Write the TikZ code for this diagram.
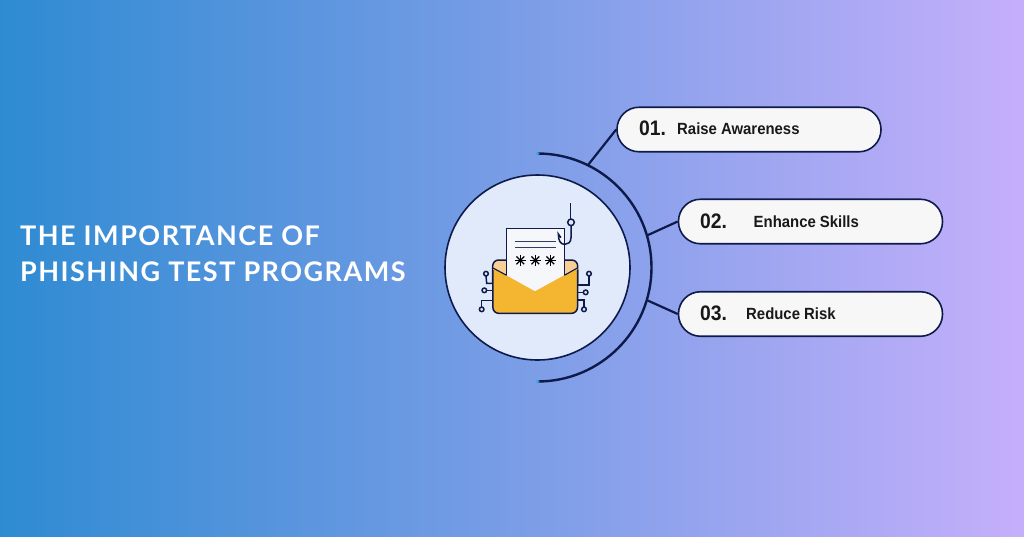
\documentclass[tikz,border=0pt]{standalone}
\usepackage{fontspec}
\usetikzlibrary{calc}
\setmainfont{Liberation Sans}
\newfontfamily\titlefont[LetterSpace=5.5]{Lato}
\newfontfamily\labelfont[FakeStretch=.92]{Liberation Sans}
\definecolor{ink}{HTML}{0E1A4A}
\definecolor{gleft}{HTML}{2E8BD2}
\definecolor{gmid}{HTML}{7BA0E6}
\definecolor{gright}{HTML}{C5AFFB}
\definecolor{disc}{HTML}{E0EAFB}
\definecolor{pill}{HTML}{F7F7F7}
\definecolor{envfill}{HTML}{F4B530}
\definecolor{flapin}{HTML}{F8CF95}
\definecolor{paper}{HTML}{F6F7FA}
\definecolor{tip}{HTML}{3BA5E8}
\tikzset{
  pillbox/.style={draw=ink,line width=1.6pt,fill=pill,rounded corners=22pt,minimum width=264pt,minimum height=44.5pt,inner sep=0pt},
  link/.style={draw=ink,line width=2.2pt},
  numtext/.style={anchor=base west,inner sep=0pt,font=\labelfont\bfseries\fontsize{21}{21}\selectfont,text=black!90},
  labeltext/.style={anchor=base west,inner sep=0pt,font=\labelfont\bfseries\fontsize{16.2}{16}\selectfont,text=black!90},
  iconline/.style={draw=ink,line width=1.5pt},
  pad/.style={draw=ink,line width=1.5pt,fill=disc},
  ray/.style={draw=black,line width=1.3pt}
}
\begin{document}
\begin{tikzpicture}[x=1pt,y=-1pt]
\useasboundingbox (0,0) rectangle (1024,536);
\shade[left color=gleft,middle color=gmid,right color=gright] (0,0) rectangle (1024,536);
% title
\node[anchor=west,align=left,inner sep=0pt,text=white,font=\titlefont\bfseries\fontsize{27}{35.5}\selectfont] (title) at (20,253.5) {THE IMPORTANCE OF\\PHISHING TEST PROGRAMS};
% disc and ring
\coordinate (c) at (537.5,267.5);
\node[circle,draw=ink,line width=1.6pt,fill=disc,minimum size=185pt,inner sep=0pt] (disc) at (c) {};
\draw[ink,line width=2.4pt] (537.5,153.5) arc[start angle=90,end angle=-90,radius=114pt];
\fill[tip] (537.5,153.5) circle[radius=1.8pt];
\fill[tip] (537.5,381.5) circle[radius=1.8pt];
\coordinate (a1) at ($(c)+(63.8:114pt)$);
\coordinate (a2) at ($(c)+(16.3:114pt)$);
\coordinate (a3) at ($(c)+(-16.6:114pt)$);
% pills
\node[pillbox] (p1) at (749,129.5) {};
\node[pillbox] (p2) at (810.5,221.5) {};
\node[pillbox] (p3) at (810.5,314) {};
\draw[link] (a1) -- (p1.west);
\draw[link] (a2) -- (p2.west);
\draw[link] (a3) -- (p3.west);
\node[numtext] (n1) at (639,135.5) {01.};
\node[labeltext] (l1) at (677,134.5) {Raise Awareness};
\node[numtext] (n2) at (700,228.5) {02.};
\node[labeltext] (l2) at (753.5,227) {Enhance Skills};
\node[numtext] (n3) at (700,320.5) {03.};
\node[labeltext] (l3) at (746,319) {Reduce Risk};
% icon, in zoom coordinates
\begin{scope}[shift={(440,170)},x=.33333pt,y=-.33333pt]
  % circuits
  \draw[iconline] (158,340) -- (140,340) -- (138,318);
  \draw[iconline] (158,361) -- (140,361);
  \draw[iconline] (158,392) -- (125,392) -- (125,411);
  \draw[iconline] (413,345) -- (447,345) -- (447,318);
  \draw[iconline] (413,367) -- (430,367);
  \draw[iconline] (413,390) -- (432,390) -- (432,411);
  \foreach \px/\py in {138/311,133/361,125/418,447/311,437/367,432/418}
    \draw[pad] (\px,\py) circle[radius=2.3pt];
  % envelope back
  \draw[draw=ink,line width=1.5pt,fill=flapin,rounded corners=6pt] (158,340) -- (158,270) -- (413,270) -- (413,340);
  % paper
  \fill[paper] (200,175) -- (373,175) -- (373,320) -- (285,364) -- (200,318) -- cycle;
  \draw[iconline] (200,315) -- (200,175) -- (373,175) -- (373,318);
  % front of envelope
  \fill[envfill] (159,294) -- (285,364) -- (412,294) [rounded corners=6pt] -- (412,430) -- (159,430) [sharp corners] -- cycle;
  \draw[draw=ink,line width=1.5pt,rounded corners=6pt] (158.5,300) -- (158.5,430) -- (412.5,430) -- (412.5,300);
  \draw[draw=ink,line width=1.1pt] (159,294) -- (200,316);
  \draw[draw=ink,line width=1.1pt] (373,316) -- (412,294);
  % lines on paper
  \draw[draw=ink!85,line width=1pt] (225,213) -- (348,213);
  \draw[draw=ink!85,line width=1pt] (225,232) -- (348,232);
  % password stars
  \foreach \sx in {241,286,331}
    \foreach \ang in {0,45,90,135}
      \draw[ray] ($(\sx,271)+(\ang:5.5pt)$) -- ($(\sx,271)+(\ang+180:5.5pt)$);
  % hook
  \draw[iconline] (392,100) -- (392,147);
  \draw[iconline] (393,157) circle[radius=3.3pt];
  \draw[iconline,line cap=round] (393,168) -- (393,203) .. controls (393,218) and (383,223) .. (374,223) .. controls (362,223) and (355,213) .. (355,192) -- (362,202);
\end{scope}
\end{tikzpicture}
\end{document}
